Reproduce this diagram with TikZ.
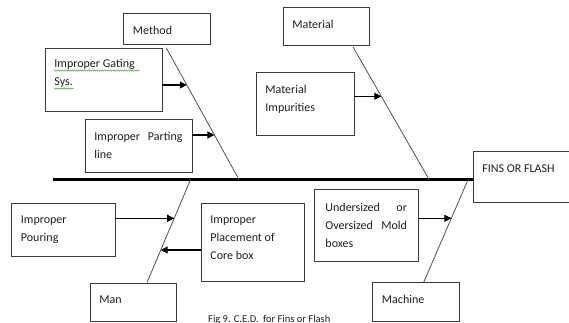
\documentclass[tikz,border=0pt]{standalone}
\usepackage{fontspec}
\setmainfont{Carlito}
\usetikzlibrary{arrows.meta,calc,decorations.pathmorphing}

\definecolor{ink}{HTML}{1E1E1E}
\definecolor{frame}{HTML}{3A3A3A}
\definecolor{bonec}{HTML}{505050}
\definecolor{spell}{HTML}{3C9A3C}

% top-aligned text block: width, height, first-baseline offset, text
\newcommand\boxtxt[4]{\parbox[t][#2][t]{#1}{\raggedright\rule{0pt}{#3}#4}}
% a line stretched to the full block width
\newcommand\fullline[1]{\makebox[\linewidth][s]{#1}}

\tikzset{
  box/.style={draw=frame, line width=0.9pt, anchor=north west,
    inner xsep=9.5pt, inner ysep=0pt, text=ink,
    font=\fontsize{12}{18}\selectfont},
  spine/.style={line width=3pt, black},
  bone/.style={line width=0.8pt, bonec},
  arr/.style={line width=1.1pt, black, -{Triangle[length=7pt,width=7pt]}},
  spellmark/.style={spell, line width=0.45pt,
    decorate, decoration={snake, segment length=2pt, amplitude=0.6pt}}
}

\begin{document}
\begin{tikzpicture}[x=1pt, y=-1pt]
\useasboundingbox (0,0) rectangle (569,322);
\clip (0,0) rectangle (569,322);

% cause boxes
\node[box] (method)   at (123,12.5)  {\boxtxt{68pt}{31pt}{21.5pt}{Method}};
\node[box] (gating)   at (44.5,47.5) {\boxtxt{98pt}{63pt}{20pt}{Improper Gating\\Sys.}};
\node[box] (parting)  at (84.5,118.5){\boxtxt{88pt}{53.5pt}{21.5pt}{\fullline{Improper Parting}\\line}};
\node[box] (material) at (282.5,7)   {\boxtxt{67pt}{38pt}{21pt}{Material}};
\node[box] (matimp)   at (255.5,72)  {\boxtxt{79pt}{63pt}{21pt}{Material\\Impurities}};
\node[box] (fins)     at (472.5,150.5){\boxtxt{81pt}{51.5pt}{21.5pt}{FINS OR FLASH}};
\node[box] (pouring)  at (11,203)    {\boxtxt{84.5pt}{53pt}{20pt}{Improper\\Pouring}};
\node[box] (placement) at (200.5,202.5){\boxtxt{84pt}{78pt}{20.5pt}{Improper\\Placement of\\Core box}};
\node[box, inner xsep=11pt] (undersized) at (314,188.5)
  {\boxtxt{81.5pt}{72.5pt}{22.5pt}{\fullline{Undersized or}\\\fullline{Oversized Mold}\\boxes}};
\node[box] (man)      at (89.5,282.5){\boxtxt{67pt}{38.5pt}{21pt}{Man}};
\node[box] (machine)  at (372,282)   {\boxtxt{67.5pt}{38.5pt}{21pt}{Machine}};

% spell-check marks under the gating label
\draw[spellmark] (54,70.5) -- (140,70.5);
\draw[spellmark] (54,88.5) -- (74,88.5);

% spine and bone end points
\coordinate (spineL) at (52.5,179.7);
\coordinate (mTop)  at (166.2,47.7);
\coordinate (mFoot) at (239.1,179.7);
\coordinate (tTop)  at (353,47);
\coordinate (tFoot) at (429.2,179.7);
\coordinate (nFoot) at (190.5,179.7);
\coordinate (nEnd)  at (147,282.5);
\coordinate (cFoot) at (468,179.7);
\coordinate (cEnd)  at (423.8,282);

\draw[spine] (spineL) -- (spineL -| fins.west);
\draw[bone] (mTop) -- (mFoot);
\draw[bone] (tTop) -- (tFoot);
\draw[bone] (nFoot) -- (nEnd);
\draw[bone] (cFoot) -- (cEnd);

% points where the cause arrows meet the bones
\coordinate (m1) at ($(mTop)!0.2826!(mFoot)$);
\coordinate (m2) at ($(mTop)!0.661!(mFoot)$);
\coordinate (t1) at ($(tTop)!0.3715!(tFoot)$);
\coordinate (n1) at ($(nFoot)!0.3755!(nEnd)$);
\coordinate (n2) at ($(nFoot)!0.684!(nEnd)$);
\coordinate (c1) at ($(cFoot)!0.377!(cEnd)$);

\draw[arr] (gating.east |- m1) -- (m1);
\draw[arr] (parting.east |- m2) -- (m2);
\draw[arr] (matimp.east |- t1) -- (t1);
\draw[arr] (pouring.east |- n1) -- (n1);
\draw[arr] (placement.west |- n2) -- (n2);
\draw[arr] (undersized.east |- c1) -- (c1);

% caption
\node[anchor=base west, inner sep=0pt, text=ink, font=\fontsize{10.5}{12}\selectfont]
  (caption) at (208,322) {Fig 9. C.E.D.\hspace{2pt} for Fins or Flash};
\end{tikzpicture}
\end{document}
